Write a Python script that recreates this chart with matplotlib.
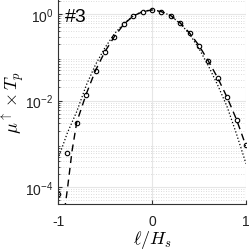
import numpy as np
import matplotlib
matplotlib.use("Agg")
import matplotlib.pyplot as plt
from matplotlib.ticker import LogLocator, NullFormatter

plt.rcParams['mathtext.fontset'] = 'cm'
plt.rcParams['font.family'] = ['Liberation Sans', 'DejaVu Sans']

# measured points (markers)
x_pts = [-1.0, -0.9, -0.8, -0.7, -0.6, -0.5, -0.4, -0.3, -0.2, -0.1, 0.0,
         0.1, 0.2, 0.3, 0.4, 0.5, 0.6, 0.7, 0.8, 0.9, 1.0]
y_pts = [7.1e-5, 6.1e-4, 3.1e-3, 0.0136, 0.049, 0.134, 0.30, 0.57, 0.885, 1.11, 1.24,
         1.13, 0.91, 0.61, 0.36, 0.185, 0.082, 0.033, 0.0119, 0.0035, 9.5e-4]

# dashed fit curve
x_dash = [-0.93, -0.9, -0.85, -0.8, -0.7, -0.6, -0.5, -0.4, -0.3, -0.2, -0.1, 0.0,
          0.1, 0.2, 0.3, 0.4, 0.5, 0.6, 0.7, 0.8, 0.9, 1.0]
y_dash = [3.0e-5, 9.0e-5, 7.0e-4, 3.2e-3, 0.0141, 0.050, 0.135, 0.30, 0.575, 0.89, 1.12, 1.23,
          1.12, 0.91, 0.62, 0.36, 0.186, 0.081, 0.033, 0.0117, 0.0036, 8.9e-4]

# dotted model curve
x_dot = [-1.0, -0.9, -0.8, -0.7, -0.6, -0.5, -0.4, -0.3, -0.2, -0.1, 0.0,
         0.1, 0.2, 0.3, 0.4, 0.5, 0.6, 0.7, 0.8, 0.9, 1.0]
y_dot = [4.5e-4, 1.8e-3, 5.6e-3, 0.0224, 0.068, 0.166, 0.347, 0.60, 0.89, 1.15, 1.23,
         1.15, 0.89, 0.60, 0.34, 0.158, 0.063, 0.0224, 7.1e-3, 1.66e-3, 3.5e-4]

fig = plt.figure(figsize=(2.49, 2.51), dpi=100)
ax = fig.add_axes([58/249, 46/251, 188/249, 205/251])
ax.set_yscale('log')

ax.plot(x_dot, y_dot, ':', color='black', lw=0.9)
ax.plot(x_dash, y_dash, '--', color='black', lw=1.0, dashes=(5, 3.5))
ax.plot(x_pts, y_pts, 'o', mfc='none', mec='black', ms=3.2, mew=0.8)

ax.set_xlim(-1, 1)
ax.set_ylim(4.1e-5, 2.2)
ax.set_xticks([-1, 0, 1])
ax.set_xticklabels(['-1', '0', '1'])
ax.set_yticks([1e-4, 1e-2, 1e0])
ax.yaxis.set_minor_locator(LogLocator(base=10, subs=np.arange(2, 10), numticks=20))
ax.yaxis.set_minor_formatter(NullFormatter())

ax.grid(True, which='major', color='#e6e6e6', lw=0.8, ls='-')
ax.grid(True, which='minor', axis='y', color='#d0d0d0', lw=0.6, ls=(0, (1, 2)))
ax.set_axisbelow(True)

for s in ['top', 'right']:
    ax.spines[s].set_visible(False)
for s in ['left', 'bottom']:
    ax.spines[s].set_color('#333333')
    ax.spines[s].set_linewidth(0.8)

ax.tick_params(which='both', direction='in', colors='#333333', labelsize=10,
               labelcolor='#222222')
ax.tick_params(which='major', length=3)
ax.tick_params(which='minor', length=1.5)
ax.tick_params(axis='x', pad=7)

ax.text(0.035, 0.955, '#3', transform=ax.transAxes, fontsize=14, va='top', ha='left',
        color='black')

ax.set_xlabel(r'$\ell/H_s$', fontsize=13)
ax.xaxis.set_label_coords(0.5, -0.115)
ax.set_ylabel(r'$\mu^{\uparrow}\times T_p$', fontsize=13)
ax.yaxis.set_label_coords(-0.17, 0.5)

fig.savefig('out.png', dpi=100)
